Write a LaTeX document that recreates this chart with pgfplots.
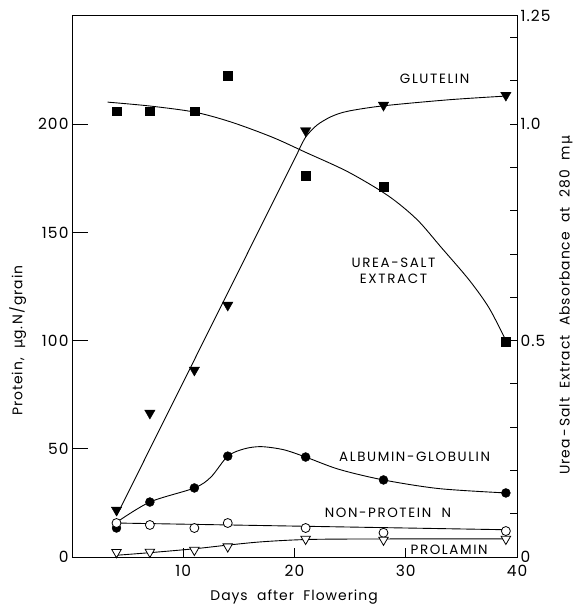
\documentclass[border=0pt]{standalone}
\usepackage{fontspec}
\setmainfont{Poppins}
\newfontfamily\lfont[LetterSpace=7]{Poppins}
\newfontfamily\tfont[LetterSpace=12]{Poppins}
\newfontfamily\dv{DejaVu Sans}
\usepackage{pgfplots}
\pgfplotsset{compat=1.18}

\pgfplotsset{
  base/.style={
    scale only axis, width=445bp, height=541bp,
    at={(0,0)}, anchor=south west,
    xmin=0, xmax=40,
    tick align=inside,
    axis line style={line width=1pt},
    every tick/.style={line width=0.9pt, black},
    /pgf/number format/assume math mode=true,
    tick label style={font=\fontsize{15.5}{16}\lfont},
  },
  fit/.style={black, line width=0.9pt, no marks},
}
\tikzset{tag/.style={font=\fontsize{13.5}{16}\tfont}}

\begin{document}
\begin{tikzpicture}
\useasboundingbox (-72bp,-49bp) rectangle (506bp,557bp);

% left axis: protein, ug N per grain
\begin{axis}[base,
  ymin=0, ymax=250,
  ytick={0,50,100,150,200}, ytick pos=left,
  xtick=\empty,
  major tick length=16bp,
  ylabel={Protein,\ \ {\dv μ}g.\,N/grain},
  every axis y label/.style={at={(axis description cs:-0.122,0.40)}, rotate=90, anchor=center,
    font=\fontsize{14}{14}\lfont},
]
% glutelin
\addplot[fit] coordinates {(4,19) (20.3,187)};
\addplot[fit, smooth] coordinates {(20.3,187) (21,194) (22,199.5) (23.3,203.5) (24.8,206) (28,208.5) (33.9,211.3) (39,213)};
\addplot[only marks, mark=triangle*, mark size=6, fill=black,
  every mark/.append style={rotate=180}]
  coordinates {(4,21.7) (7,66.5) (11,86.4) (14,116.4) (21,197) (28,208.8) (39,213.4)};

% albumin-globulin
\addplot[fit, smooth] coordinates {(4,16) (7,25.4) (11,31.9) (12.5,37) (14,46.6) (15.5,50) (17,51) (19,49.6) (21,46.2) (24,40.5) (28,35.6) (33,31.6) (39,29.6)};
\addplot[only marks, mark=*, mark size=4.5, fill=black]
  coordinates {(4,13.4) (7,25.4) (11,31.9) (14,46.6) (21,46.2) (28,35.6) (39,29.6)};

% non-protein N
\addplot[fit] coordinates {(4,15.7) (39,12.6)};
\addplot[only marks, mark=*, mark size=4.5, mark options={fill=white, draw=black, line width=0.8pt}]
  coordinates {(4,15.7) (7,14.8) (11,13.4) (14,15.7) (21,13.4) (28,11.2) (39,12)};

% prolamin
\addplot[fit, smooth] coordinates {(4,0.8) (7,2.0) (11,3.8) (14,5.5) (17,7) (20.6,8) (25,8.3) (39,8.4)};
\addplot[only marks, mark=triangle*, mark size=5.5, mark options={fill=white, draw=black, line width=0.8pt, rotate=180}]
  coordinates {(4,2.2) (7,2.3) (11,3.2) (14,4.8) (21,8.3) (28,7.9) (39,8.3)};

\node[tag] at (axis cs:32.6,220.8) {GLUTELIN};
\node[tag, align=center] at (axis cs:28.9,132.4) {UREA-SALT\\EXTRACT};
\node[tag] at (axis cs:30.8,46.2) {ALBUMIN-GLOBULIN};
\node[tag] at (axis cs:28.4,20.3) {NON-PROTEIN\ \ N};
\node[tag] at (axis cs:33.9,3.4) {PROLAMIN};
\end{axis}

% right axis: urea-salt extract absorbance
\begin{axis}[base,
  ymin=0, ymax=1.25,
  axis y line*=right, hide x axis,
  ytick={0,0.1,0.2,0.3,0.4,0.5,0.6,0.7,0.8,0.9,1.0,1.1,1.2},
  yticklabels={0,,,,,0.5,,,,,1.0,,},
  extra y ticks={1.25}, extra y tick labels={1.25},
  extra y tick style={major tick length=0pt},
  major tick length=7bp,
  ylabel={Urea\,-\,Salt\ \ Extract\ \ Absorbance\ \ at\ \ 280\ \ m\,{\dv μ}},
  every axis y label/.style={at={(axis description cs:1.110,0.466)}, rotate=90, anchor=center,
    font=\fontsize{14}{14}\lfont},
]
\addplot[fit, smooth] coordinates {(3.2,1.051) (7,1.042) (11,1.028) (14.3,1.005) (18,0.97) (21,0.935) (24.8,0.89) (28.4,0.835) (31,0.78) (33.2,0.715) (35.7,0.64) (37.5,0.575) (39,0.5)};
\addplot[only marks, mark=square*, mark size=4.5, fill=black]
  coordinates {(4,1.03) (7,1.03) (11,1.03) (14,1.113) (21,0.882) (28,0.855) (39,0.497)};
\end{axis}

% bottom axis: days
\begin{axis}[base,
  ymin=0, ymax=1,
  axis x line*=bottom, hide y axis,
  xtick={10,20,30,40},
  major tick length=9bp,
  xticklabel style={yshift=-5bp},
  xlabel={Days\ \ after\ \ Flowering},
  every axis x label/.style={at={(axis description cs:0.499,-0.074)}, anchor=center,
    font=\fontsize{14}{14}\lfont},
]
\end{axis}
\end{tikzpicture}
\end{document}
